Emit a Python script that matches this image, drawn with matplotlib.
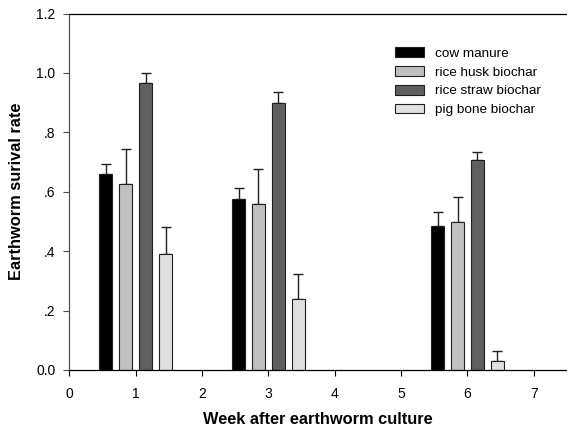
import matplotlib
matplotlib.use("Agg")
import matplotlib.pyplot as plt
import numpy as np

plt.rcParams['font.family'] = ['Liberation Sans', 'DejaVu Sans']

weeks = [1, 3, 6]
series = ["cow manure", "rice husk biochar", "rice straw biochar", "pig bone biochar"]
cow_manure = [0.659, 0.575, 0.484]
rice_husk = [0.625, 0.558, 0.499]
rice_straw = [0.967, 0.900, 0.708]
pig_bone = [0.392, 0.240, 0.031]
cow_err = [0.036, 0.037, 0.047]
husk_err = [0.118, 0.118, 0.083]
straw_err = [0.034, 0.036, 0.025]
pig_err = [0.088, 0.083, 0.033]
colors = ["#000000", "#c0c0c0", "#606060", "#e0e0e0"]
xticks = [0, 1, 2, 3, 4, 5, 6, 7]
yticks = [0.0, 0.2, 0.4, 0.6, 0.8, 1.0, 1.2]
ytick_labels = ["0.0", ".2", ".4", ".6", ".8", "1.0", "1.2"]

fig = plt.figure(figsize=(5.67, 4.33), dpi=100)
ax = fig.add_axes([0.1222, 0.1455, 0.8778, 0.8231])

vals = [cow_manure, rice_husk, rice_straw, pig_bone]
errs = [cow_err, husk_err, straw_err, pig_err]
offsets = [-0.45, -0.15, 0.15, 0.45]
width = 0.19
w = np.array(weeks, dtype=float)
for v, e, c, off, name in zip(vals, errs, colors, offsets, series):
    ax.bar(w + off, v, width=width, color=c, edgecolor="#202020", linewidth=0.8,
           label=name, zorder=2)
    ax.errorbar(w + off, v, yerr=[np.zeros(len(e)), e], fmt="none",
                ecolor="#202020", elinewidth=1.0, capsize=3.6, capthick=1.0, zorder=1)

ax.set_xlim(0, 7.5)
ax.set_ylim(0, 1.2)
ax.set_xticks(xticks)
ax.set_xticklabels([str(t) for t in xticks], fontsize=10)
ax.set_yticks(yticks)
ax.set_yticklabels(ytick_labels, fontsize=10)
ax.tick_params(axis="x", direction="out", length=4, width=0.8, pad=8)
ax.tick_params(axis="y", direction="out", length=4, width=0.8, pad=6, color="#505050")
ax.spines['right'].set_visible(False)
ax.spines['left'].set_color("#505050")
for s in ['left', 'bottom', 'top']:
    ax.spines[s].set_linewidth(0.9)

ax.set_xlabel("Week after earthworm culture", fontsize=11.8, fontweight="bold", labelpad=8)
ax.set_ylabel("Earthworm surival rate", fontsize=11.8, fontweight="bold", labelpad=9)

leg = ax.legend(loc="upper left", bbox_to_anchor=(0.654, 0.905), frameon=False,
                fontsize=9.7, handlelength=2.2, handleheight=0.75, labelspacing=0.45,
                handletextpad=0.75, borderaxespad=0, borderpad=0)

fig.savefig("out.png", dpi=100)
